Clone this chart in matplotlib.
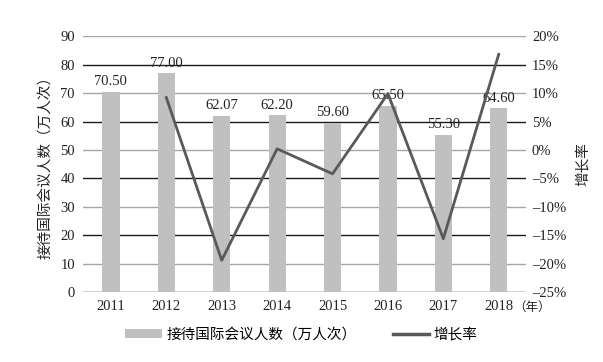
import matplotlib
matplotlib.use("Agg")
from matplotlib import pyplot as plt
from matplotlib.patches import Patch
from matplotlib.lines import Line2D

plt.rcParams['font.family'] = ['Liberation Serif', 'Noto Sans CJK SC']

years = ["2011", "2012", "2013", "2014", "2015", "2016", "2017", "2018"]
visitors = [70.50, 77.00, 62.07, 62.20, 59.60, 65.50, 55.30, 64.60]
growth = [None, 9.2, -19.4, 0.2, -4.2, 9.9, -15.6, 16.8]
labels = ["70.50", "77.00", "62.07", "62.20", "59.60", "65.50", "55.30", "64.60"]

bar_color = "#BFC0BF"
line_color = "#595959"
text_color = "#222222"

fig = plt.figure(figsize=(6.03, 3.62), dpi=100)
ax = fig.add_axes([0.138, 0.193, 0.735, 0.707])
ax2 = ax.twinx()

x = list(range(len(years)))
ax.bar(x, visitors, width=0.31, color=bar_color, zorder=2)
for i, v in enumerate(visitors):
    ax.text(i, v + 1.2, labels[i], ha="center", va="bottom", fontsize=10.5, color=text_color, zorder=4)

ax.set_ylim(0, 90)
ax.set_xlim(-0.5, len(years) - 0.5)
ax.set_yticks(range(0, 91, 10))
ax.set_xticks(x)
ax.set_xticklabels(years)

# year unit next to the last tick label
ax.annotate("（年）", xy=(len(years) - 1, 0), xycoords="data", xytext=(10.5, -11),
            textcoords="offset points", ha="left", va="center", fontsize=9, color=text_color)

# grid lines, alternating dark and gray
for k, yv in enumerate(range(0, 91, 10)):
    c = "#1a1a1a" if k % 2 == 0 else "#A6A6A6"
    ax.axhline(yv, color=c, lw=1.0, zorder=1)

gx = [i for i, g in enumerate(growth) if g is not None]
gy = [g for g in growth if g is not None]
ax2.plot(gx, gy, color=line_color, lw=2.0, zorder=5)
ax2.set_ylim(-25, 20)
ax2.set_yticks(range(-25, 21, 5))
ax2.set_yticklabels([f"{t}%".replace("-", "–") for t in range(-25, 21, 5)])

for a in (ax, ax2):
    for s in a.spines.values():
        s.set_visible(False)
    a.tick_params(length=0, labelsize=10.5, colors=text_color)
ax.tick_params(axis="y", pad=6)
ax.tick_params(axis="x", pad=6)
ax2.tick_params(axis="y", pad=4)

ax.set_ylabel("接待国际会议人数（万人次）", fontsize=10.5, color=text_color, labelpad=6)
ax2.set_ylabel("增长率", fontsize=10.5, color=text_color, rotation=90, labelpad=7)

handles = [Patch(facecolor=bar_color, edgecolor="none"),
           Line2D([0], [0], color=line_color, lw=2.5)]
fig.legend(handles, ["接待国际会议人数（万人次）", "增长率"], loc="center",
           bbox_to_anchor=(0.5, 0.075), ncol=2, frameon=False, fontsize=10.5,
           handlelength=2.5, handleheight=0.6, columnspacing=2.5, handletextpad=0.3)

fig.savefig("out.png", dpi=100)
